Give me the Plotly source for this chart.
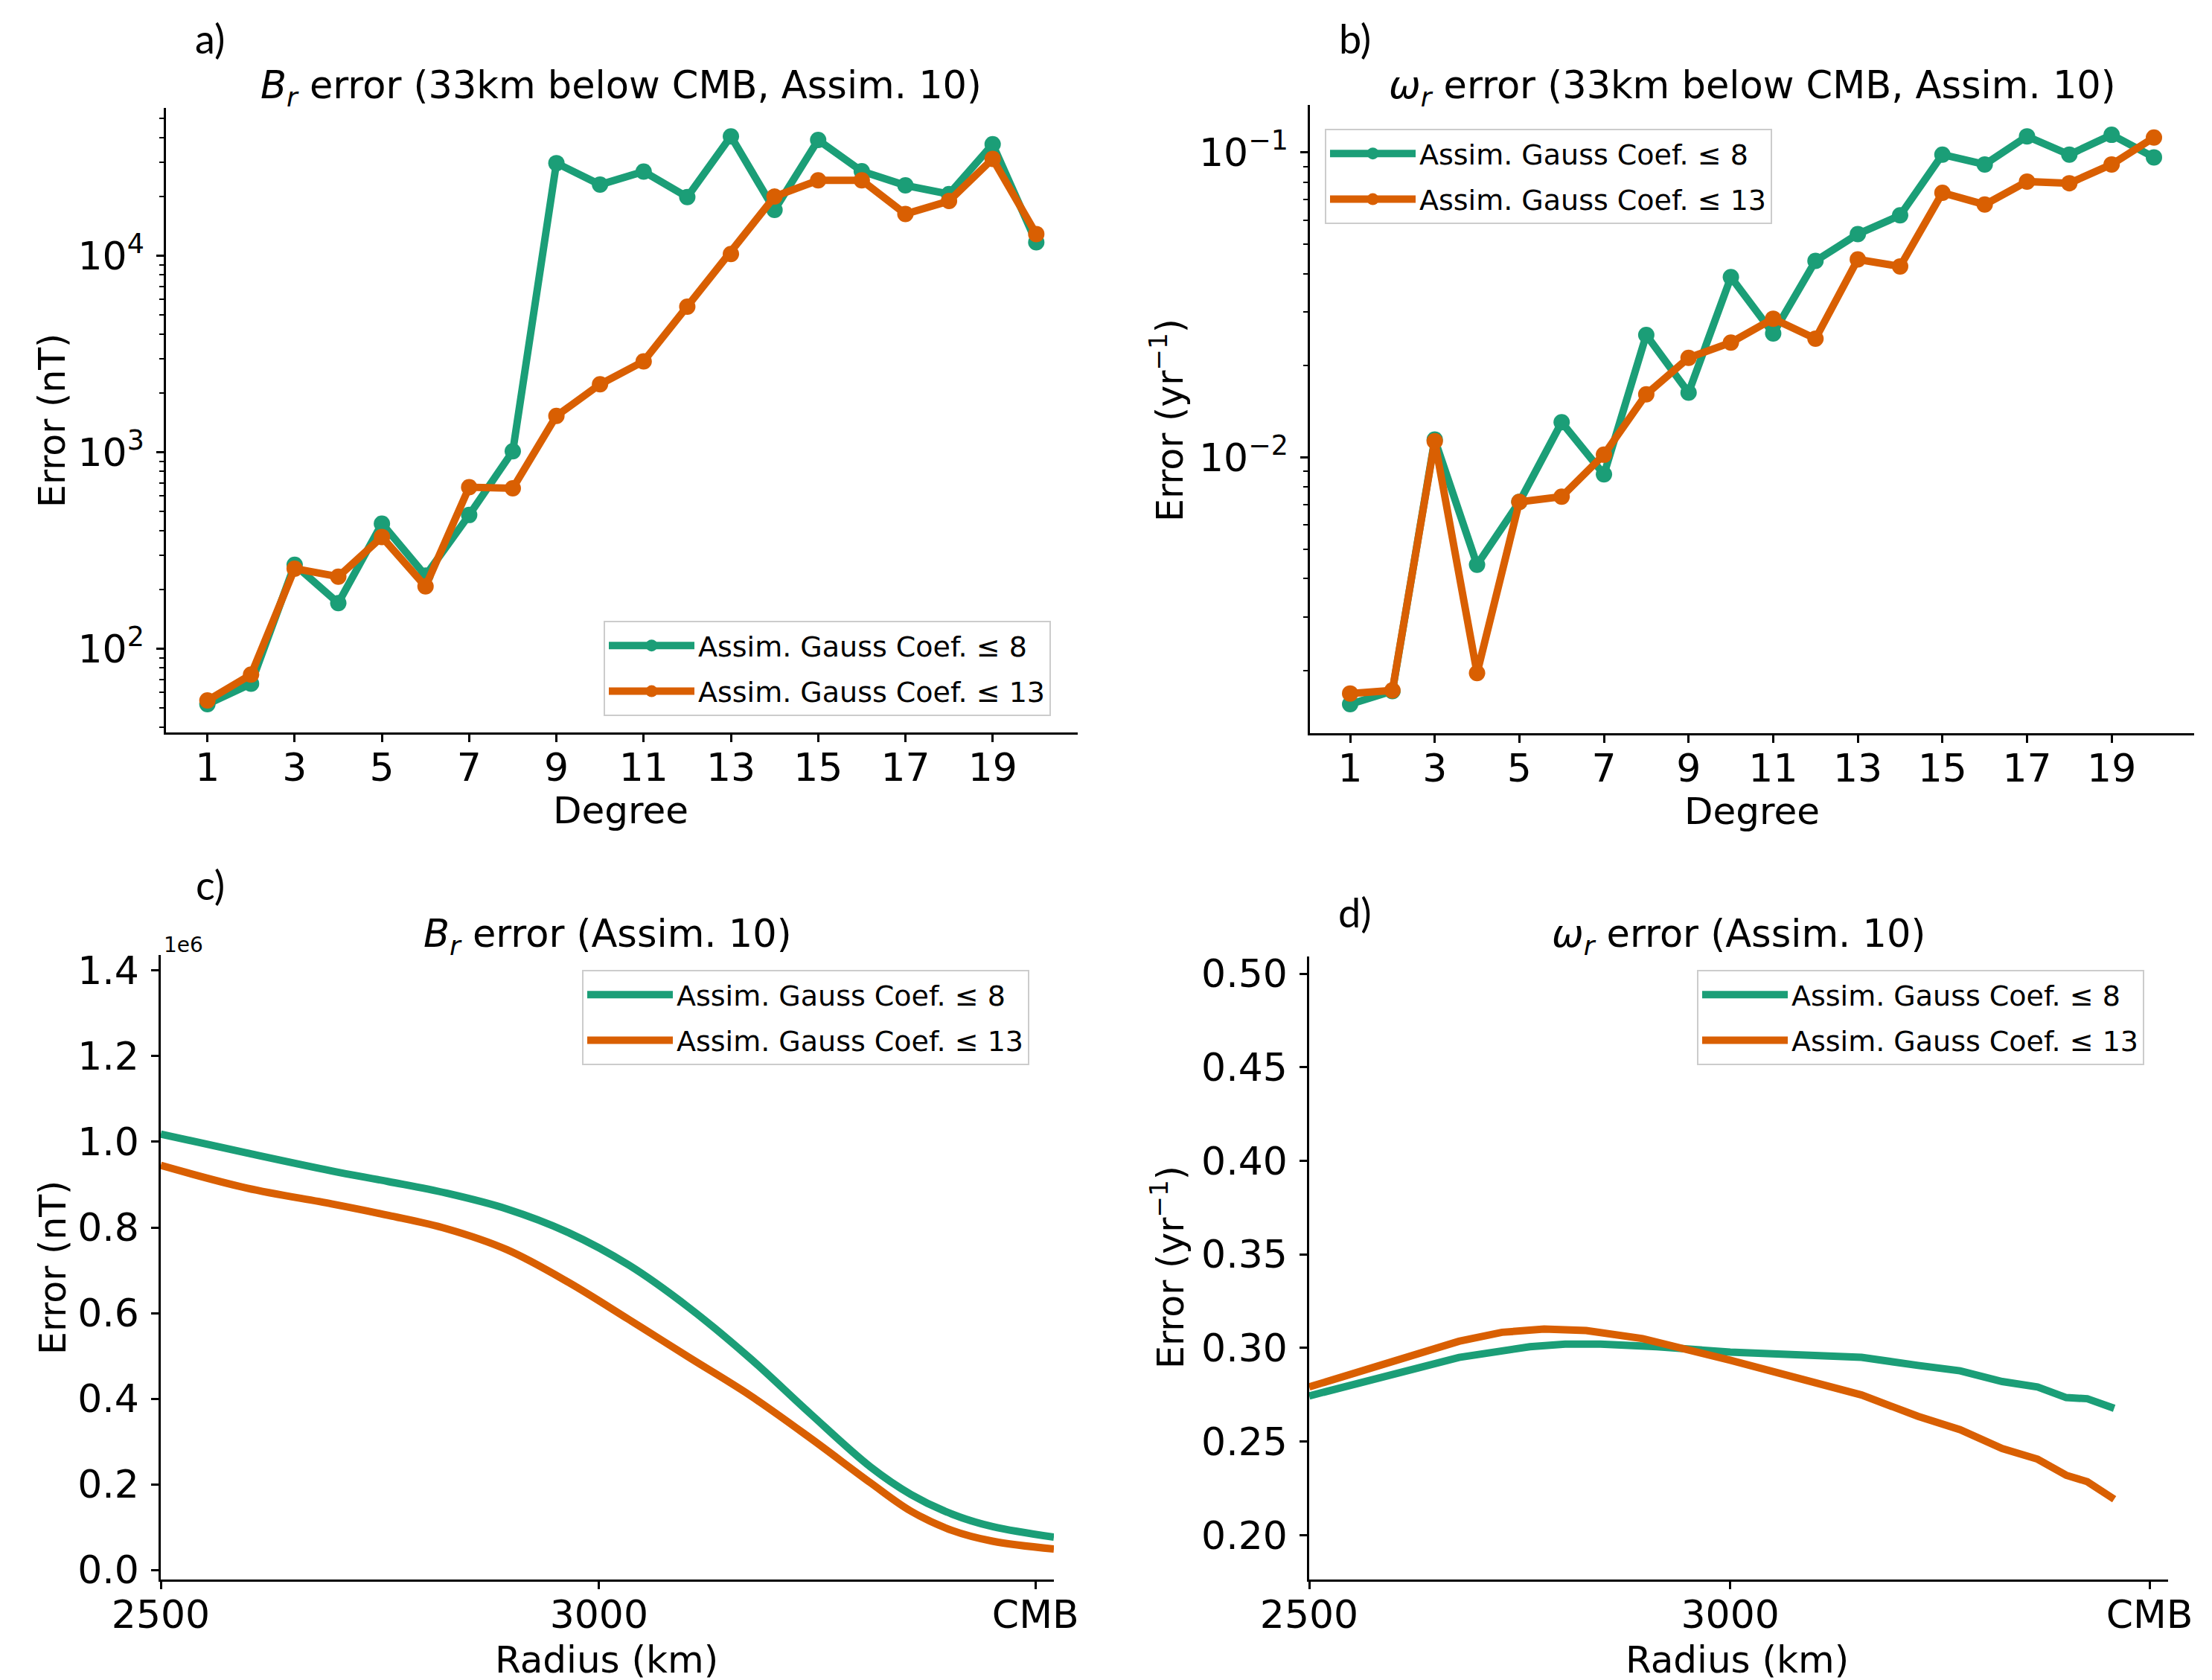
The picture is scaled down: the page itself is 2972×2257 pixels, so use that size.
import plotly.graph_objects as go

W, H = 2972, 2257
OX, OY = 8, 15  # page offset of the figure inside the browser window
GREEN = "#1b9e77"
ORANGE = "#d95f02"
FONT = "DejaVu Sans"

# ---------------- data ----------------
degrees = list(range(1, 21))
names = ["Assim. Gauss Coef. ≤ 8", "Assim. Gauss Coef. ≤ 13"]

# a) Br error per degree (nT)
br_deg_g8 = [52.4, 66.5, 268, 171, 434, 236, 480, 1013, 29600, 23000,
             26800, 19900, 40500, 17100, 38800, 26900, 22800, 20600, 36900, 11700]
br_deg_g13 = [54.7, 74, 256, 233, 371, 208, 665, 656, 1532, 2218,
              2904, 5510, 10200, 20000, 24200, 24200, 16300, 19000, 31100, 12900]

# b) omega_r error per degree (yr^-1)
wr_deg_g8 = [0.00155, 0.00171, 0.01143, 0.00444, 0.00714, 0.01303, 0.00879, 0.0252, 0.0163, 0.0390,
             0.0255, 0.0441, 0.0540, 0.0622, 0.0984, 0.0914, 0.1130, 0.0984, 0.1143, 0.0964]
wr_deg_g13 = [0.00168, 0.00172, 0.01130, 0.00196, 0.00714, 0.00743, 0.0102, 0.0161, 0.0212, 0.0238,
              0.0285, 0.0245, 0.0446, 0.0423, 0.0738, 0.0675, 0.0803, 0.0793, 0.0914, 0.1120]

# c) Br error vs radius (nT)
radius_c = [2500, 2598, 2695, 2760, 2826, 2895, 2965, 3034, 3103, 3172,
            3241, 3310, 3356, 3403, 3449, 3519]
br_rad_g8 = [1018000, 974000, 932000, 907000, 880000, 843000, 788000, 712000, 612000, 495000,
             365000, 240000, 176000, 130000, 101000, 76500]
br_rad_g13 = [945000, 892000, 855000, 828000, 797000, 748000, 672000, 585000, 496000, 408000,
              308000, 203000, 137000, 92000, 67000, 48700]

# d) omega_r error vs radius (yr^-1)
radius_d_g8 = [2500, 2595, 2678, 2762, 2804, 2846, 2913, 3000, 3097, 3156,
               3223, 3273, 3323, 3365, 3399, 3424, 3456]
wr_rad_g8 = [0.2744, 0.2855, 0.2950, 0.3007, 0.3021, 0.3021, 0.3007, 0.2978, 0.2958, 0.2950,
             0.2907, 0.2878, 0.2821, 0.2792, 0.2735, 0.2729, 0.2678]
radius_d_g13 = [2500, 2595, 2678, 2729, 2779, 2829, 2896, 3000, 3097, 3156,
                3223, 3273, 3323, 3365, 3399, 3424, 3456]
wr_rad_g13 = [0.2792, 0.2921, 0.3036, 0.3084, 0.3101, 0.3093, 0.3050, 0.2935, 0.2821, 0.2749,
              0.2635, 0.2564, 0.2463, 0.2406, 0.2320, 0.2286, 0.2192]

deg_ticks = [1, 3, 5, 7, 9, 11, 13, 15, 17, 19]
radius_ticks = [2500, 3000, 3498]
radius_ticktext = ["2500", "3000", "CMB"]
br_rad_ticks = [0, 200000, 400000, 600000, 800000, 1000000, 1200000, 1400000]
br_rad_ticktext = ["0.0", "0.2", "0.4", "0.6", "0.8", "1.0", "1.2", "1.4"]
wr_rad_ticks = [0.20, 0.25, 0.30, 0.35, 0.40, 0.45, 0.50]

# ---------------- helpers ----------------
def px_x(p):
    return (p - OX) / W

def px_y(p):
    return 1 - (p - OY) / H

fig = go.Figure()

def add(x, y, name, color, xa, ya, legend, group, markers, shape="linear"):
    fig.add_trace(go.Scatter(
        x=x, y=y, name=name, xaxis=xa, yaxis=ya, legend=legend, legendgroup=group,
        mode="lines+markers" if markers else "lines",
        line=dict(color=color, width=10, shape=shape, smoothing=1.0),
        marker=dict(color=color, size=22) if markers else None,
    ))

add(degrees, br_deg_g8, names[0], GREEN, "x", "y", "legend", "a8", True)
add(degrees, br_deg_g13, names[1], ORANGE, "x", "y", "legend", "a13", True)
add(degrees, wr_deg_g8, names[0], GREEN, "x2", "y2", "legend2", "b8", True)
add(degrees, wr_deg_g13, names[1], ORANGE, "x2", "y2", "legend2", "b13", True)
add(radius_c, br_rad_g8, names[0], GREEN, "x3", "y3", "legend3", "c8", False, "spline")
add(radius_c, br_rad_g13, names[1], ORANGE, "x3", "y3", "legend3", "c13", False, "spline")
add(radius_d_g8, wr_rad_g8, names[0], GREEN, "x4", "y4", "legend4", "d8", False)
add(radius_d_g13, wr_rad_g13, names[1], ORANGE, "x4", "y4", "legend4", "d13", False)

tickfont = dict(family=FONT, size=52, color="black")
common = dict(showline=True, linecolor="black", linewidth=2.5, ticks="outside",
              ticklen=10, tickwidth=2.5, tickcolor="black", showgrid=False,
              zeroline=False, tickfont=tickfont, mirror=False, automargin=False)
xcommon = dict(common, ticklabelstandoff=-10)
ycommon = dict(common, ticklabelstandoff=6)

def logminor(decades):
    vals = []
    for d in decades:
        for k in range(2, 10):
            vals.append(k * 10 ** d)
    return vals

layout_axes = dict(
    xaxis=dict(domain=[px_x(223), px_x(1448)], anchor="y", range=[0.05, 20.95],
               tickmode="array", tickvals=deg_ticks, **xcommon),
    yaxis=dict(domain=[px_y(991), px_y(152)], anchor="x", type="log", range=[1.575, 4.752],
               tickmode="array", tickvals=[100, 1000, 10000],
               ticktext=["10<sup>2</sup>", "10<sup>3</sup>", "10<sup>4</sup>"],
               minor=dict(tickmode="array", tickvals=logminor([1, 2, 3, 4]), ticks="outside",
                          ticklen=6, tickwidth=2, tickcolor="black"),
               **ycommon),
    xaxis2=dict(domain=[px_x(1760), px_x(2948)], anchor="y2", range=[0.05, 20.95],
                tickmode="array", tickvals=deg_ticks, **xcommon),
    yaxis2=dict(domain=[px_y(992), px_y(148)], anchor="x2", type="log", range=[-2.905, -0.844],
                tickmode="array", tickvals=[0.01, 0.1],
                ticktext=["10<sup>−2</sup>", "10<sup>−1</sup>"],
                minor=dict(tickmode="array", tickvals=logminor([-3, -2]), ticks="outside",
                           ticklen=6, tickwidth=2, tickcolor="black"),
                **ycommon),
    xaxis3=dict(domain=[px_x(216), px_x(1416)], anchor="y3", range=[2500, 3519],
                tickmode="array", tickvals=radius_ticks, ticktext=radius_ticktext, **xcommon),
    yaxis3=dict(domain=[px_y(2129), px_y(1290)], anchor="x3", range=[-22600, 1436500],
                tickmode="array", tickvals=br_rad_ticks, ticktext=br_rad_ticktext, **ycommon),
    xaxis4=dict(domain=[px_x(1759), px_x(2913)], anchor="y4", range=[2500, 3520],
                tickmode="array", tickvals=radius_ticks, ticktext=radius_ticktext, **xcommon),
    yaxis4=dict(domain=[px_y(2129), px_y(1292)], anchor="x4", range=[0.1763, 0.5092],
                tickmode="array", tickvals=wr_rad_ticks, tickformat=".2f", **ycommon),
)

legfont = dict(family=FONT, size=38, color="black")
legcommon = dict(font=legfont, bgcolor="rgba(255,255,255,0.8)", bordercolor="#cccccc",
                 borderwidth=2, xanchor="left", yanchor="top", itemwidth=115,
                 tracegroupgap=9)

fig.update_layout(
    template="none",
    width=W, height=H, margin=dict(l=0, r=0, t=0, b=0, autoexpand=False),
    paper_bgcolor="white", plot_bgcolor="white",
    font=dict(family=FONT, color="black"),
    legend=dict(x=px_x(811), y=px_y(841), **legcommon),
    legend2=dict(x=px_x(1780), y=px_y(180), **legcommon),
    legend3=dict(x=px_x(782), y=px_y(1310), **legcommon),
    legend4=dict(x=px_x(2280), y=px_y(1310), **legcommon),
    **layout_axes,
)

def ann(text, x, y, size, family=FONT, angle=0):
    fig.add_annotation(text=text, x=px_x(x), y=px_y(y), xref="paper", yref="paper",
                       showarrow=False, textangle=angle, xanchor="center", yanchor="middle",
                       font=dict(family=family, size=size, color="black"))

# titles
ann("<i>B</i><sub><i>r</i></sub> error (33km below CMB, Assim. 10)", 835, 125, 51)
ann("<i>ω</i><sub><i>r</i></sub> error (33km below CMB, Assim. 10)", 2354, 125, 51)
ann("<i>B</i><sub><i>r</i></sub> error (Assim. 10)", 816, 1265, 51)
ann("<i>ω</i><sub><i>r</i></sub> error (Assim. 10)", 2336, 1265, 51)

# axis labels
ann("Degree", 834, 1096, 50)
ann("Degree", 2354, 1097, 50)
ann("Radius (km)", 815, 2237, 50)
ann("Radius (km)", 2334, 2237, 50)
ann("Error (nT)", 71, 572, 49, angle=-90)
ann("Error (yr<sup>−1</sup>)", 1569, 572, 49, angle=-90)
ann("Error (nT)", 71, 1710, 49, angle=-90)
ann("Error (yr<sup>−1</sup>)", 1569, 1710, 49, angle=-90)

# offset text
ann("1e6", 246, 1276, 28)

# panel labels
ann("a)", 282, 58, 54, family="Lato")
ann("b)", 1820, 58, 54, family="Lato")
ann("c)", 282, 1195, 54, family="Lato")
ann("d)", 1820, 1232, 54, family="Lato")

fig.write_html("out.html")
